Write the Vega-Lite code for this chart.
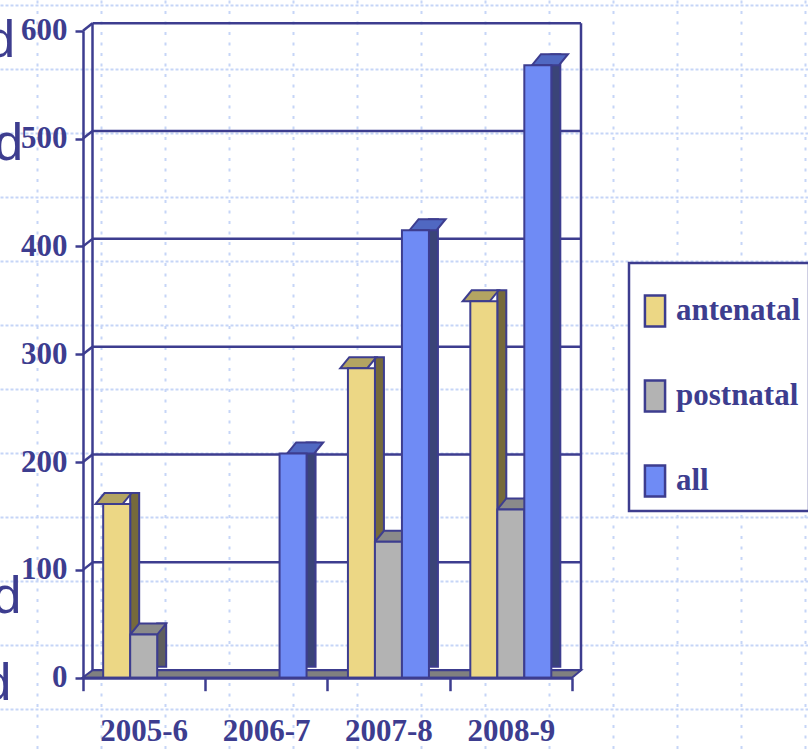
{
  "$schema": "https://vega.github.io/schema/vega-lite/v6.json",
  "width": 808,
  "height": 752,
  "padding": 0,
  "autosize": {"type": "none"},
  "background": "white",
  "config": {
    "view": {"stroke": null},
    "legend": {"strokeWidth": 2.5}
  },
  "datasets": {
    "bars": [
      {"period": "2005-6", "type": "antenatal", "value": 161},
      {"period": "2005-6", "type": "postnatal", "value": 40},
      {"period": "2005-6", "type": "all", "value": 0},
      {"period": "2006-7", "type": "antenatal", "value": 0},
      {"period": "2006-7", "type": "postnatal", "value": 0},
      {"period": "2006-7", "type": "all", "value": 208},
      {"period": "2007-8", "type": "antenatal", "value": 287},
      {"period": "2007-8", "type": "postnatal", "value": 126},
      {"period": "2007-8", "type": "all", "value": 415},
      {"period": "2008-9", "type": "antenatal", "value": 349},
      {"period": "2008-9", "type": "postnatal", "value": 156},
      {"period": "2008-9", "type": "all", "value": 568}
    ],
    "grid": [
      {"v": 0}, {"v": 100}, {"v": 200}, {"v": 300}, {"v": 400}, {"v": 500}, {"v": 600}
    ]
  },
  "layer": [
    {
      "data": {"name": "grid"},
      "mark": {"type": "point", "opacity": 0},
      "encoding": {
        "x": {
          "datum": 0, "type": "quantitative",
          "scale": {"domain": [0, 808], "range": [0, 808], "nice": false, "zero": false},
          "axis": {"orient": "top", "values": [37, 101, 165, 229, 293, 357, 421, 485, 549, 613, 677, 741, 805],
                   "grid": true, "gridColor": "#c6d5f7", "gridWidth": 2, "gridDash": [3, 7.5],
                   "domain": false, "ticks": false, "labels": false, "title": null}
        },
        "y": {
          "datum": 0, "type": "quantitative",
          "scale": {"domain": [0, 752], "range": [0, 752], "nice": false, "zero": false},
          "axis": {"orient": "right", "values": [5, 69, 133, 197, 261, 325, 389, 453, 517, 581, 645, 709],
                   "grid": true, "gridColor": "#c6d5f7", "gridWidth": 2, "gridDash": [3, 2],
                   "domain": false, "ticks": false, "labels": false, "title": null}
        }
      }
    },
    {
      "resolve": {"scale": {"fill": "independent", "xOffset": "independent"}},
      "layer": [
        {
          "data": {"name": "grid"},
          "mark": {"type": "rule", "stroke": "#3d3d8f", "strokeWidth": 2.5, "xOffset": 10, "x2Offset": 9, "yOffset": -7.5},
          "encoding": {
            "x": {"datum": "2005-6", "type": "nominal", "bandPosition": 0,
                  "scale": {"domain": ["2005-6", "2006-7", "2007-8", "2008-9"], "range": [82.5, 572], "paddingInner": 0, "paddingOuter": 0}},
            "x2": {"datum": "2008-9", "bandPosition": 1},
            "y": {"field": "v", "type": "quantitative", "title": null,
                  "scale": {"domain": [0, 600], "range": [677.7, 30.7], "nice": false, "zero": true}}
          }
        },
        {
          "data": {"name": "grid"},
          "transform": [{"filter": "datum.v > 0"}],
          "mark": {"type": "rule", "stroke": "#3d3d8f", "strokeWidth": 2.5, "xOffset": 0.5, "x2Offset": 10, "y2Offset": -7.5},
          "encoding": {
            "x": {"datum": "2005-6", "type": "nominal", "bandPosition": 0},
            "x2": {"datum": "2005-6", "bandPosition": 0},
            "y": {"field": "v", "type": "quantitative", "title": null},
            "y2": {"field": "v"}
          }
        },
        {
          "data": {"name": "grid"},
          "transform": [{"filter": "datum.v == 600"}],
          "mark": {"type": "rule", "stroke": "#3d3d8f", "strokeWidth": 2.5, "xOffset": 10, "yOffset": -7.5, "y2Offset": -7.5},
          "encoding": {
            "x": {"datum": "2005-6", "type": "nominal", "bandPosition": 0},
            "y": {"field": "v", "type": "quantitative", "title": null},
            "y2": {"datum": 0}
          }
        },
        {
          "data": {"name": "grid"},
          "transform": [{"filter": "datum.v == 600"}],
          "mark": {"type": "rule", "stroke": "#3d3d8f", "strokeWidth": 2.5, "xOffset": 9, "yOffset": -7.5, "y2Offset": -7.5},
          "encoding": {
            "x": {"datum": "2008-9", "type": "nominal", "bandPosition": 1},
            "y": {"field": "v", "type": "quantitative", "title": null},
            "y2": {"datum": 0}
          }
        },
        {
          "data": {"name": "grid"},
          "transform": [{"filter": "datum.v == 0"}],
          "mark": {"type": "point", "shape": "M0,0L489.5,0L498.5,-7.5L10,-7.5Z", "size": 4, "filled": true,
                   "fill": "#808080", "stroke": "#3d3d8f", "strokeWidth": 2, "opacity": 1},
          "encoding": {
            "x": {"datum": "2005-6", "type": "nominal", "bandPosition": 0},
            "y": {"field": "v", "type": "quantitative", "title": null}
          }
        },
        {
          "data": {"name": "grid"},
          "transform": [{"filter": "datum.v == 0"}],
          "mark": {"type": "text", "text": "d", "font": "Liberation Sans", "fontSize": 52, "color": "#3d3d8f", "align": "right", "baseline": "alphabetic"},
          "encoding": {
            "x": {"datum": "2005-6", "type": "nominal", "bandPosition": -0.55},
            "y": {"datum": 576, "type": "quantitative"}
          }
        },
        {
          "data": {"name": "grid"},
          "transform": [{"filter": "datum.v == 0"}],
          "mark": {"type": "text", "text": "d", "font": "Liberation Sans", "fontSize": 52, "color": "#3d3d8f", "align": "right", "baseline": "alphabetic"},
          "encoding": {
            "x": {"datum": "2005-6", "type": "nominal", "bandPosition": -0.485},
            "y": {"datum": 480, "type": "quantitative"}
          }
        },
        {
          "data": {"name": "grid"},
          "transform": [{"filter": "datum.v == 0"}],
          "mark": {"type": "text", "text": "d", "font": "Liberation Sans", "fontSize": 52, "color": "#3d3d8f", "align": "right", "baseline": "alphabetic"},
          "encoding": {
            "x": {"datum": "2005-6", "type": "nominal", "bandPosition": -0.5},
            "y": {"datum": 60, "type": "quantitative"}
          }
        },
        {
          "data": {"name": "grid"},
          "transform": [{"filter": "datum.v == 0"}],
          "mark": {"type": "text", "text": "d", "font": "Liberation Sans", "fontSize": 52, "color": "#3d3d8f", "align": "right", "baseline": "alphabetic"},
          "encoding": {
            "x": {"datum": "2005-6", "type": "nominal", "bandPosition": -0.58},
            "y": {"datum": -21, "type": "quantitative"}
          }
        },
        {
          "data": {"name": "bars"},
          "transform": [{"filter": "datum.value > 0"}],
          "mark": {"type": "bar", "yOffset": -11, "y2Offset": -11,
                   "stroke": "#3d3d8f", "strokeWidth": 2},
          "encoding": {
            "x": {"field": "period", "type": "nominal"},
            "xOffset": {"field": "type", "type": "nominal",
                        "scale": {"domain": ["antenatal", "postnatal", "all"], "range": [47.68, 110.68], "paddingInner": 0.6667, "paddingOuter": 0}},
            "y": {"field": "value", "type": "quantitative", "title": null},
            "fill": {"field": "type", "type": "nominal", "legend": null,
                     "scale": {"domain": ["antenatal", "postnatal", "all"], "range": ["#766a3b", "#5e5e5e", "#3a4478"]}}
          }
        },
        {
          "data": {"name": "bars"},
          "transform": [{"filter": "datum.value > 0"}],
          "mark": {"type": "point", "shape": "M-13.5,0L13.5,0L22.5,-11L-4.5,-11Z", "size": 4, "filled": true,
                   "stroke": "#3d3d8f", "strokeWidth": 2, "opacity": 1},
          "encoding": {
            "x": {"field": "period", "type": "nominal"},
            "xOffset": {"field": "type", "type": "nominal",
                        "scale": {"domain": ["antenatal", "postnatal", "all"], "paddingInner": 0, "paddingOuter": 0.766}},
            "y": {"field": "value", "type": "quantitative", "title": null},
            "fill": {"field": "type", "type": "nominal", "legend": null,
                     "scale": {"domain": ["antenatal", "postnatal", "all"], "range": ["#b3a462", "#8a8a8a", "#5068c2"]}}
          }
        },
        {
          "data": {"name": "bars"},
          "transform": [{"filter": "datum.value > 0"}],
          "mark": {"type": "bar", "stroke": "#3d3d8f", "strokeWidth": 2, "opacity": 1},
          "encoding": {
            "x": {"field": "period", "type": "nominal", "sort": null,
                  "axis": {"orient": "bottom", "offset": -74.3, "title": null, "grid": false,
                           "domainColor": "#3d3d8f", "domainWidth": 3, "tickBand": "extent",
                           "tickColor": "#3d3d8f", "tickWidth": 2.5, "tickSize": 13,
                           "labelFont": "Liberation Serif", "labelFontWeight": "bold", "labelFontSize": 31,
                           "labelColor": "#3d3d8f", "labelPadding": 41, "labelAngle": 0,
                           "labelAlign": "center", "labelFlush": false, "zindex": 1}},
            "xOffset": {"field": "type", "type": "nominal",
                        "scale": {"domain": ["antenatal", "postnatal", "all"], "paddingInner": 0, "paddingOuter": 0.766}},
            "y": {"field": "value", "type": "quantitative",
                  "axis": {"orient": "left", "offset": -83, "title": null, "grid": false,
                           "values": [0, 100, 200, 300, 400, 500, 600],
                           "domainColor": "#3d3d8f", "domainWidth": 2.5,
                           "tickColor": "#3d3d8f", "tickWidth": 2.5, "tickSize": 8,
                           "labelFont": "Liberation Serif", "labelFontWeight": "bold", "labelFontSize": 31,
                           "labelColor": "#3d3d8f", "labelPadding": 8, "zindex": 1}},
            "color": {"field": "type", "type": "nominal",
                      "scale": {"domain": ["antenatal", "postnatal", "all"], "range": ["#ecd785", "#b3b3b3", "#6f8bf5"]},
                      "legend": {"orient": "none", "legendX": 629, "legendY": 263, "title": " ",
                                 "titleFontSize": 22, "titlePadding": 0,
                                 "padding": 9, "strokeColor": "#3d3d8f", "fillColor": "white",
                                 "symbolType": "M-0.65,-1H0.65V1H-0.65Z", "symbolSize": 961,
                                 "symbolStrokeColor": "#3d3d8f", "symbolStrokeWidth": 2.5,
                                 "labelFont": "Liberation Serif", "labelFontWeight": "bold", "labelFontSize": 31,
                                 "labelColor": "#3d3d8f", "labelOffset": 4, "labelLimit": 300,
                                 "rowPadding": 43}}
          }
        }
      ]
    }
  ],
  "resolve": {"scale": {"x": "independent", "y": "independent"}, "axis": {"x": "independent", "y": "independent"}}
}
